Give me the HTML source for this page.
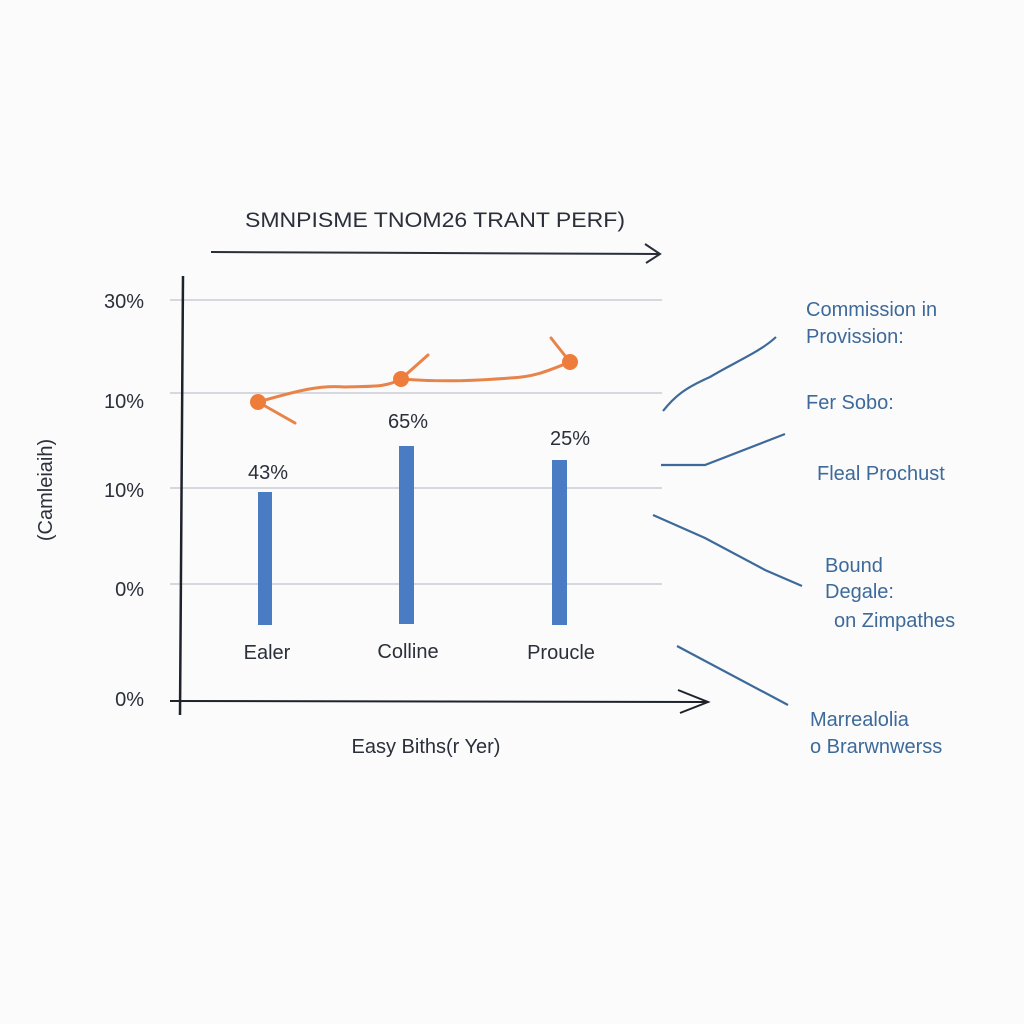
<!DOCTYPE html>
<html><head><meta charset="utf-8"><style>
html,body{margin:0;padding:0;background:#fbfbfb;}
svg{display:block;}
text{font-family:"Liberation Sans",sans-serif;}
</style></head><body>
<svg width="1024" height="1024" viewBox="0 0 1024 1024">
<rect width="1024" height="1024" fill="#fbfbfb"/>
<text x="435" y="227" font-size="21" fill="#2a2f3a" text-anchor="middle" textLength="380" lengthAdjust="spacingAndGlyphs">SMNPISME TNOM26 TRANT PERF)</text>
<path d="M211 252 L658 254 M645 244 L660 254 L646 263" stroke="#2a2f3a" stroke-width="2" fill="none"/>
<g stroke="#c9cdd4" stroke-width="1.5">
<line x1="170" y1="300" x2="662" y2="300"/>
<line x1="170" y1="393" x2="662" y2="393"/>
<line x1="170" y1="488" x2="662" y2="488"/>
<line x1="170" y1="584" x2="662" y2="584"/>
</g>
<path d="M183 276 L180 715" stroke="#1e222a" stroke-width="2.5" fill="none"/>
<path d="M170 701 L706 702 M678 690 L708 702 L680 713" stroke="#1e222a" stroke-width="2" fill="none"/>
<g font-size="20" fill="#2a2f3a" text-anchor="end">
<text x="144" y="308">30%</text>
<text x="144" y="408">10%</text>
<text x="144" y="497">10%</text>
<text x="144" y="596">0%</text>
<text x="144" y="706">0%</text>
</g>
<text x="0" y="0" font-size="20" fill="#2a2f3a" text-anchor="middle" transform="translate(52,490) rotate(-90)">(Camleiaih)</text>
<g fill="#4a7cc4">
<rect x="258" y="492" width="14" height="133"/>
<rect x="399" y="446" width="15" height="178"/>
<rect x="552" y="460" width="15" height="165"/>
</g>
<g font-size="20" fill="#2a2f3a" text-anchor="middle">
<text x="268" y="479">43%</text>
<text x="408" y="428">65%</text>
<text x="570" y="445">25%</text>
<text x="267" y="659">Ealer</text>
<text x="408" y="658">Colline</text>
<text x="561" y="659">Proucle</text>
<text x="426" y="753">Easy Biths(r Yer)</text>
</g>
<g stroke="#e8834a" stroke-width="3" fill="none" stroke-linecap="round">
<path d="M258 402 C300 390 320 385 345 387 C370 386 385 388 401 379 C440 382 470 381 510 378 C535 377 550 370 570 362"/>
<path d="M258 402 L295 423"/>
<path d="M401 379 L428 355"/>
<path d="M570 362 L551 338"/>
</g>
<g fill="#ee7d3c">
<circle cx="258" cy="402" r="8"/>
<circle cx="401" cy="379" r="8"/>
<circle cx="570" cy="362" r="8"/>
</g>
<g stroke="#3d6a9a" stroke-width="2.2" fill="none">
<path d="M663 411 C675 396 685 388 710 377 C735 362 760 352 776 337"/>
<path d="M661 465 L705 465 L785 434"/>
<path d="M653 515 L705 538 L765 570 L802 586"/>
<path d="M677 646 L788 705"/>
</g>
<g font-size="20" fill="#3d6a9a">
<text x="806" y="316">Commission in</text>
<text x="806" y="343">Provission:</text>
<text x="806" y="409">Fer Sobo:</text>
<text x="817" y="480">Fleal Prochust</text>
<text x="825" y="572">Bound</text>
<text x="825" y="598">Degale:</text>
<text x="834" y="627">on Zimpathes</text>
<text x="810" y="726">Marrealolia</text>
<text x="810" y="753">o Brarwnwerss</text>
</g>
</svg>
</body></html>
